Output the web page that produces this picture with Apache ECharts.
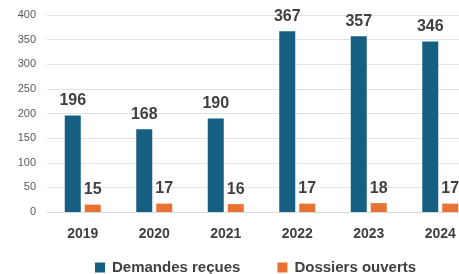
<!DOCTYPE html>
<html>
<head>
<meta charset="utf-8">
<script src="https://cdn.jsdelivr.net/npm/echarts@6/dist/echarts.min.js"></script>
<style>
  html, body { margin: 0; padding: 0; background: #fff; }
  #chart { width: 459px; height: 274px; }
</style>
</head>
<body>
<div id="chart"></div>
<script>
var years = ["2019", "2020", "2021", "2022", "2023", "2024"]
var demandes = [196, 168, 190, 367, 357, 346]
var dossiers = [15, 17, 16, 17, 18, 17]
var yTicks = [0, 50, 100, 150, 200, 250, 300, 350, 400]

var font = "Liberation Sans"
var labelStyle = {
    show: true,
    position: "top",
    distance: 7,
    color: "#404040",
    fontFamily: font,
    fontWeight: "bold",
    fontSize: 16
}

echarts.init(document.getElementById("chart")).setOption({
    animation: false,
    grid: {
        left: 47,
        width: 429,
        top: 15,
        height: 197,
        outerBoundsMode: "none"
    },
    legend: {
        left: 90,
        top: 255,
        itemWidth: 10,
        itemHeight: 10,
        itemGap: 37,
        icon: "rect",
        textStyle: {
            color: "#404040",
            fontFamily: font,
            fontWeight: "bold",
            fontSize: 15,
            padding: [0, 0, 0, 2]
        },
        data: ["Demandes reçues", "Dossiers ouverts"]
    },
    xAxis: {
        type: "category",
        data: years,
        axisLine: { lineStyle: { color: "#d9d9d9" } },
        axisTick: { show: false },
        axisLabel: {
            margin: 15,
            color: "#404040",
            fontFamily: font,
            fontWeight: "bold",
            fontSize: 14
        }
    },
    yAxis: {
        type: "value",
        min: yTicks[0],
        max: yTicks[yTicks.length - 1],
        interval: 50,
        axisLine: { show: false },
        axisTick: { show: false },
        splitLine: { lineStyle: { color: "#e3e3e3" } },
        axisLabel: {
            margin: 11,
            color: "#595959",
            fontFamily: font,
            fontSize: 11
        }
    },
    series: [{
        name: "Demandes reçues",
        type: "bar",
        color: "#156082",
        barWidth: 16,
        barGap: "25%",
        label: labelStyle,
        data: demandes
    }, {
        name: "Dossiers ouverts",
        type: "bar",
        color: "#E97132",
        barWidth: 16,
        label: labelStyle,
        data: dossiers
    }]
})
</script>
</body>
</html>
